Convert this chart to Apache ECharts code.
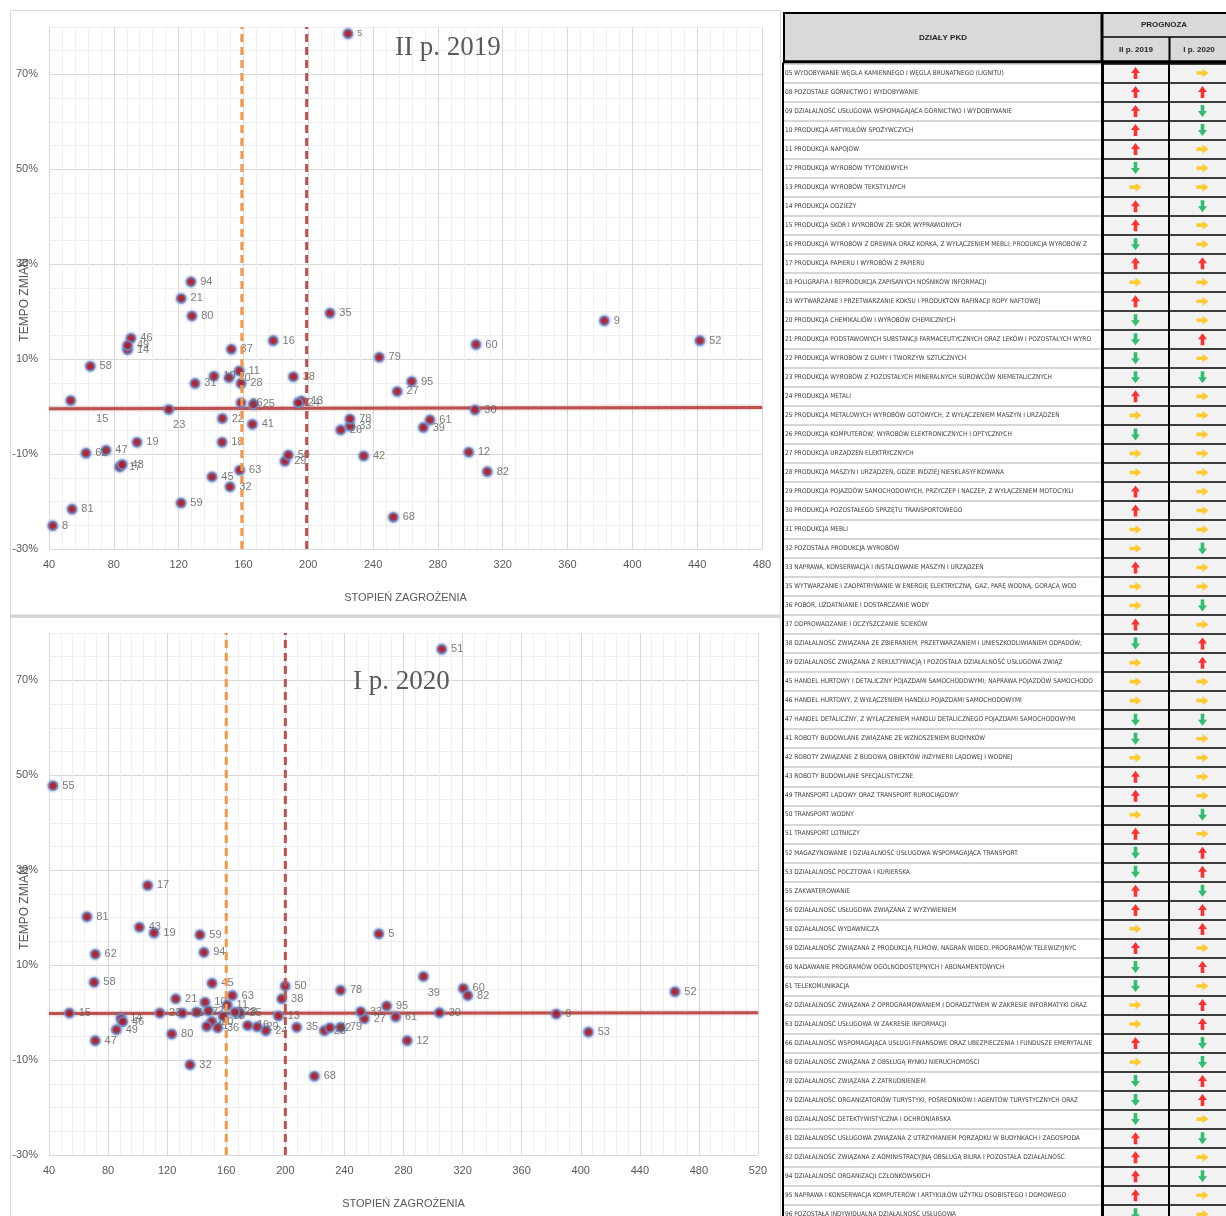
<!DOCTYPE html>
<html>
<head>
<meta charset="utf-8">
<script src="https://cdn.jsdelivr.net/npm/echarts@6/dist/echarts.min.js"></script>
<style>
  html, body { margin: 0; padding: 0; background: #fff; }
  #main { width: 1226px; height: 1216px; }
</style>
</head>
<body>
<div id="main"></div>
<script>
// II p. 2019 - stopien zagrozenia (x) i tempo zmian w % (y)
const codes2019 = ['5','8','9','10','11','12','13','14','15','16','17','18','19','20','21','22','23','24','25','26','27','28','29','30','31','32','33','35','36','37','38','39','41','42','43','45','46','47','49','50','52','58','59','60','61','62','63','68','78','79','80','81','82','94','95'];
const risk2019 = [224.5,42.3,382.7,141.8,157.4,299,195.9,88.5,53.4,178.4,83.6,146.8,94.3,151.1,121.6,147,113.9,193.8,166.1,220,254.9,158.5,185.6,302.9,130.1,151.7,225.7,213.4,158.5,152.5,190.8,271,165.5,234.2,85.2,140.6,90.6,75.2,88.5,187.7,441.7,65.5,121.5,303.5,275.1,62.8,157.7,252.5,225.7,243.8,128.2,54.2,310.5,127.6,263.8];
const change2019 = [78.6,-25.1,18.1,6.4,7.5,-9.6,1.2,12.0,1.3,13.9,-12.7,-7.5,-7.5,6.1,22.8,-2.5,-0.6,0.8,0.5,-4.9,3.2,4.9,-11.5,-0.7,4.9,-16.9,-4.1,19.7,0.8,12.1,6.3,-4.4,-3.7,-10.4,-12.2,-14.8,14.4,-9.2,12.9,-10.2,13.9,8.5,-20.3,13.1,-2.8,-9.8,-13.4,-23.3,-2.6,10.4,19.1,-21.6,-13.7,26.3,5.3];
const trend2019 = [[40, -0.45], [480, -0.17]];
const limits2019 = [159, 199];

// I p. 2020
const codes2020 = ['5','9','10','11','12','13','14','15','16','17','18','19','20','21','22','23','24','25','26','27','28','29','30','31','32','33','35','36','37','38','39','41','42','43','45','46','47','49','50','51','52','53','55','58','59','60','61','62','63','68','78','79','80','81','82','94','95'];
const risk2020 = [263.3,383.4,145.6,160.7,282.5,195.3,88.7,53.8,174.5,106.8,158,111.1,150.2,125.8,147.9,115,186.8,169.3,226.4,253.5,165.9,180.9,304.3,130.2,135.5,251,207.7,154.2,140,197.6,293.5,146.8,230.2,101.2,150.4,89.9,71.3,85.6,199.9,305.9,463.8,405.2,42.7,70.5,142.2,320.5,274.7,71.3,164.1,219.7,237.4,237.4,123.1,65.7,323.5,144.9,268.6];
const change2020 = [16.6,-0.3,2.2,1.6,-5.9,-0.7,-1.2,-0.1,-2.7,26.8,-0.8,16.8,-1.9,2.9,0.4,-0.1,-3.8,0.0,-3.8,-1.3,0.1,-3.0,0.0,-0.1,-11.0,0.2,-3.1,-3.2,0.1,2.9,7.6,-2.9,-3.2,18.0,6.2,-1.9,-5.9,-3.6,5.6,76.6,4.4,-4.1,47.8,6.4,16.4,5.1,-0.9,12.3,3.6,-13.4,4.7,-3.1,-4.5,20.2,3.6,12.7,1.4];
const trend2020 = [[40, -0.2], [520, 0.0]];
const limits2020 = [160, 200];

// tabela prognoz
const pkdNames = [
  '05 WYDOBYWANIE WĘGLA KAMIENNEGO I WĘGLA BRUNATNEGO (LIGNITU)',
  '08 POZOSTAŁE GÓRNICTWO I WYDOBYWANIE',
  '09 DZIAŁALNOŚĆ USŁUGOWA WSPOMAGAJĄCA GÓRNICTWO I WYDOBYWANIE',
  '10 PRODUKCJA ARTYKUŁÓW SPOŻYWCZYCH',
  '11 PRODUKCJA NAPOJÓW',
  '12 PRODUKCJA WYROBÓW TYTONIOWYCH',
  '13 PRODUKCJA WYROBÓW TEKSTYLNYCH',
  '14 PRODUKCJA ODZIEŻY',
  '15 PRODUKCJA SKÓR I WYROBÓW ZE SKÓR WYPRAWIONYCH',
  '16 PRODUKCJA WYROBÓW Z DREWNA ORAZ KORKA, Z WYŁĄCZENIEM MEBLI; PRODUKCJA WYROBÓW ZE SŁOMY I MATERIAŁÓW UŻYWANYCH DO WYPLATANIA',
  '17 PRODUKCJA PAPIERU I WYROBÓW Z PAPIERU',
  '18 POLIGRAFIA I REPRODUKCJA ZAPISANYCH NOŚNIKÓW INFORMACJI',
  '19 WYTWARZANIE I PRZETWARZANIE KOKSU I PRODUKTÓW RAFINACJI ROPY NAFTOWEJ',
  '20 PRODUKCJA CHEMIKALIÓW I WYROBÓW CHEMICZNYCH',
  '21 PRODUKCJA PODSTAWOWYCH SUBSTANCJI FARMACEUTYCZNYCH ORAZ LEKÓW I POZOSTAŁYCH WYROBÓW FARMACEUTYCZNYCH',
  '22 PRODUKCJA WYROBÓW Z GUMY I TWORZYW SZTUCZNYCH',
  '23 PRODUKCJA WYROBÓW Z POZOSTAŁYCH MINERALNYCH SUROWCÓW NIEMETALICZNYCH',
  '24 PRODUKCJA METALI',
  '25 PRODUKCJA METALOWYCH WYROBÓW GOTOWYCH, Z WYŁĄCZENIEM MASZYN I URZĄDZEŃ',
  '26 PRODUKCJA KOMPUTERÓW, WYROBÓW ELEKTRONICZNYCH I OPTYCZNYCH',
  '27 PRODUKCJA URZĄDZEŃ ELEKTRYCZNYCH',
  '28 PRODUKCJA MASZYN I URZĄDZEŃ, GDZIE INDZIEJ NIESKLASYFIKOWANA',
  '29 PRODUKCJA POJAZDÓW SAMOCHODOWYCH, PRZYCZEP I NACZEP, Z WYŁĄCZENIEM MOTOCYKLI',
  '30 PRODUKCJA POZOSTAŁEGO SPRZĘTU TRANSPORTOWEGO',
  '31 PRODUKCJA MEBLI',
  '32 POZOSTAŁA PRODUKCJA WYROBÓW',
  '33 NAPRAWA, KONSERWACJA I INSTALOWANIE MASZYN I URZĄDZEŃ',
  '35 WYTWARZANIE I ZAOPATRYWANIE W ENERGIĘ ELEKTRYCZNĄ, GAZ, PARĘ WODNĄ, GORĄCĄ WODĘ I POWIETRZE DO UKŁADÓW KLIMATYZACYJNYCH',
  '36 POBÓR, UZDATNIANIE I DOSTARCZANIE WODY',
  '37 ODPROWADZANIE I OCZYSZCZANIE ŚCIEKÓW',
  '38 DZIAŁALNOŚĆ ZWIĄZANA ZE ZBIERANIEM, PRZETWARZANIEM I UNIESZKODLIWIANIEM ODPADÓW; ODZYSK SUROWCÓW',
  '39 DZIAŁALNOŚĆ ZWIĄZANA Z REKULTYWACJĄ I POZOSTAŁA DZIAŁALNOŚĆ USŁUGOWA ZWIĄZANA Z GOSPODARKĄ ODPADAMI',
  '45 HANDEL HURTOWY I DETALICZNY POJAZDAMI SAMOCHODOWYMI; NAPRAWA POJAZDÓW SAMOCHODOWYCH',
  '46 HANDEL HURTOWY, Z WYŁĄCZENIEM HANDLU POJAZDAMI SAMOCHODOWYMI',
  '47 HANDEL DETALICZNY, Z WYŁĄCZENIEM HANDLU DETALICZNEGO POJAZDAMI SAMOCHODOWYMI',
  '41 ROBOTY BUDOWLANE ZWIĄZANE ZE WZNOSZENIEM BUDYNKÓW',
  '42 ROBOTY ZWIĄZANE Z BUDOWĄ OBIEKTÓW INŻYNIERII LĄDOWEJ I WODNEJ',
  '43 ROBOTY BUDOWLANE SPECJALISTYCZNE',
  '49 TRANSPORT LĄDOWY ORAZ TRANSPORT RUROCIĄGOWY',
  '50 TRANSPORT WODNY',
  '51 TRANSPORT LOTNICZY',
  '52 MAGAZYNOWANIE I DZIAŁALNOŚĆ USŁUGOWA WSPOMAGAJĄCA TRANSPORT',
  '53 DZIAŁALNOŚĆ POCZTOWA I KURIERSKA',
  '55 ZAKWATEROWANIE',
  '56 DZIAŁALNOŚĆ USŁUGOWA ZWIĄZANA Z WYŻYWIENIEM',
  '58 DZIAŁALNOŚĆ WYDAWNICZA',
  '59 DZIAŁALNOŚĆ ZWIĄZANA Z PRODUKCJĄ FILMÓW, NAGRAŃ WIDEO, PROGRAMÓW TELEWIZYJNYCH, NAGRAŃ DŹWIĘKOWYCH I MUZYCZNYCH',
  '60 NADAWANIE PROGRAMÓW OGÓLNODOSTĘPNYCH I ABONAMENTOWYCH',
  '61 TELEKOMUNIKACJA',
  '62 DZIAŁALNOŚĆ ZWIĄZANA Z OPROGRAMOWANIEM I DORADZTWEM W ZAKRESIE INFORMATYKI ORAZ DZIAŁALNOŚĆ POWIĄZANA',
  '63 DZIAŁALNOŚĆ USŁUGOWA W ZAKRESIE INFORMACJI',
  '66 DZIAŁALNOŚĆ WSPOMAGAJĄCA USŁUGI FINANSOWE ORAZ UBEZPIECZENIA I FUNDUSZE EMERYTALNE',
  '68 DZIAŁALNOŚĆ ZWIĄZANA Z OBSŁUGĄ RYNKU NIERUCHOMOŚCI',
  '78 DZIAŁALNOŚĆ ZWIĄZANA Z ZATRUDNIENIEM',
  '79 DZIAŁALNOŚĆ ORGANIZATORÓW TURYSTYKI, POŚREDNIKÓW I AGENTÓW TURYSTYCZNYCH ORAZ POZOSTAŁA DZIAŁALNOŚĆ USŁUGOWA',
  '80 DZIAŁALNOŚĆ DETEKTYWISTYCZNA I OCHRONIARSKA',
  '81 DZIAŁALNOŚĆ USŁUGOWA ZWIĄZANA Z UTRZYMANIEM PORZĄDKU W BUDYNKACH I ZAGOSPODAROWANIEM TERENÓW ZIELENI',
  '82 DZIAŁALNOŚĆ ZWIĄZANA Z ADMINISTRACYJNĄ OBSŁUGĄ BIURA I POZOSTAŁA DZIAŁALNOŚĆ WSPOMAGAJĄCA PROWADZENIE DZIAŁALNOŚCI',
  '94 DZIAŁALNOŚĆ ORGANIZACJI CZŁONKOWSKICH',
  '95 NAPRAWA I KONSERWACJA KOMPUTERÓW I ARTYKUŁÓW UŻYTKU OSOBISTEGO I DOMOWEGO',
  '96 POZOSTAŁA INDYWIDUALNA DZIAŁALNOŚĆ USŁUGOWA'
];
// u = wzrost, d = spadek, r = bez zmian
const forecast2019 = 'u u u u u d r u u d u r u d d d d u r d r r u u r r u r r u d r r r d d r u u r u d d u u r u d d r r u r d d d u u u u d'.split(' ');
const forecast2020 = 'r u d d r r r d r r u r r r u r d r r r r r r r r d r r d r u u r r d r r r r d r u u d u u r u r u u d d u u r d r d r r'.split(' ');
const forecastCols = ['II p. 2019', 'I p. 2020'];

const FONT = 'Liberation Sans';
const TABLE_FONT = "'DejaVu Sans Condensed', 'Liberation Sans', sans-serif";
const GRAY = '#595959';
const ARROW = 'path://M5,0L10,6L7,6L7,12L3,12L3,6L0,6Z';
const arrowStyle = {
  u: { color: '#ff0000', rotate: 0 },
  d: { color: '#00b050', rotate: 180 },
  r: { color: '#ffc000', rotate: -90 }
};

function points(codes, xs, ys, extra) {
  return codes.map((c, i) => {
    const d = { name: c, value: [xs[i], ys[i]] };
    if (extra[c]) d.label = extra[c];
    return d;
  });
}

function xAxisFor(gi, max) {
  return {
    type: 'value', gridIndex: gi, min: 40, max: max, interval: 8,
    name: 'STOPIEŃ ZAGROŻENIA', nameLocation: 'middle', nameGap: 43,
    nameTextStyle: { color: GRAY, fontSize: 11, fontFamily: FONT },
    axisLine: { show: false }, axisTick: { show: false },
    axisLabel: {
      color: GRAY, fontSize: 11, fontFamily: FONT, margin: 10,
      formatter: v => ((v - 40) % 40 === 0 ? String(v) : '')
    },
    splitLine: { lineStyle: { color: ['#d9d9d9', '#efefef', '#efefef', '#efefef', '#efefef'] } }
  };
}

function yAxisFor(gi) {
  return {
    type: 'value', gridIndex: gi, min: -30, max: 80, interval: 5,
    axisLine: { show: false }, axisTick: { show: false },
    axisLabel: {
      color: GRAY, fontSize: 11, fontFamily: FONT, margin: 11,
      formatter: v => ((v + 30) % 20 === 0 ? v + '%' : '')
    },
    splitLine: { lineStyle: { color: ['#d9d9d9', '#efefef', '#efefef', '#efefef'] } }
  };
}

function chartSeries(gi, data, trend, limits) {
  return [
    {
      type: 'line', xAxisIndex: gi, yAxisIndex: gi, data: trend, symbol: 'none', silent: true, z: 2,
      lineStyle: { color: '#c0504d', width: 3, shadowBlur: 3, shadowColor: 'rgba(120,0,0,0.35)' }
    },
    {
      type: 'scatter', xAxisIndex: gi, yAxisIndex: gi, data: data, symbolSize: 9, z: 3,
      itemStyle: { color: '#c00000', borderColor: '#6f8fcc', borderWidth: 1.6, shadowBlur: 3, shadowColor: 'rgba(91,127,192,0.9)' },
      label: { show: true, position: 'right', distance: 4, formatter: '{b}', color: GRAY, fontSize: 11, fontFamily: FONT }
    },
    {
      type: 'line', xAxisIndex: gi, yAxisIndex: gi, symbol: 'none', silent: true, z: 4,
      data: [[limits[0], -30], [limits[0], 80]],
      lineStyle: { color: '#f79646', width: 3, type: [8, 5] }
    },
    {
      type: 'line', xAxisIndex: gi, yAxisIndex: gi, symbol: 'none', silent: true, z: 4,
      data: [[limits[1], -30], [limits[1], 80]],
      lineStyle: { color: '#c0504d', width: 3, type: [8, 5] }
    }
  ];
}

const tableData = [];
pkdNames.forEach((n, i) => {
  [forecast2019[i], forecast2020[i]].forEach((k, j) => {
    const s = arrowStyle[k];
    tableData.push({ value: [j, i], symbolRotate: s.rotate, itemStyle: { color: s.color } });
  });
});

const ROW_TOP = 63.5;
const ROW_H = 19.02;

function axisTitle(y) {
  return {
    type: 'text', x: 25, y: y, rotation: Math.PI / 2, silent: true,
    style: { text: 'TEMPO ZMIAN', fontSize: 12, fontFamily: FONT, fill: GRAY, align: 'center', verticalAlign: 'middle' }
  };
}

const myChart = echarts.init(document.getElementById('main'));
const option = {
  animation: false,
  backgroundColor: '#fff',
  title: [
    { text: 'II p. 2019', left: 390, top: 29, textStyle: { fontFamily: 'Liberation Serif', fontSize: 27, fontWeight: 'normal', color: GRAY } },
    { text: 'I p. 2020', left: 348, top: 663, textStyle: { fontFamily: 'Liberation Serif', fontSize: 27, fontWeight: 'normal', color: GRAY } }
  ],
  grid: [
    { left: 49, top: 27, width: 713, height: 522, containLabel: false, outerBoundsMode: 'none' },
    { left: 49, top: 633, width: 709, height: 522, containLabel: false, outerBoundsMode: 'none' },
    { left: 1102, top: ROW_TOP, width: 134, height: ROW_H * pkdNames.length, show: true, backgroundColor: '#f2f2f2', borderWidth: 0, containLabel: false, outerBoundsMode: 'none' },
    { left: 783, top: ROW_TOP, width: 319, height: ROW_H * pkdNames.length, containLabel: false, outerBoundsMode: 'none' }
  ],
  xAxis: [
    xAxisFor(0, 480),
    xAxisFor(1, 520),
    {
      type: 'category', gridIndex: 2, data: forecastCols,
      axisLabel: { show: false }, axisTick: { show: false }, axisLine: { show: false },
      splitLine: { show: true, interval: 0, lineStyle: { color: '#000', width: 2 } }
    },
    { type: 'value', gridIndex: 3, show: false, splitLine: { show: false } }
  ],
  yAxis: [
    yAxisFor(0),
    yAxisFor(1),
    {
      type: 'category', gridIndex: 2, data: pkdNames, inverse: true,
      axisTick: { show: false },
      axisLine: { show: true, lineStyle: { color: '#000', width: 3 } },
      splitLine: { show: true, interval: 0, lineStyle: { color: '#000', width: 1.5 } },
      axisLabel: {
        interval: 0, align: 'left', margin: 317, width: 314, overflow: 'truncate', ellipsis: '',
        fontSize: 6.5, fontFamily: TABLE_FONT, color: '#404040'
      }
    },
    {
      type: 'category', gridIndex: 3, data: pkdNames, inverse: true,
      axisTick: { show: false }, axisLabel: { show: false },
      axisLine: { show: true, lineStyle: { color: '#000', width: 2 } },
      splitLine: { show: true, interval: 0, lineStyle: { color: '#c8c8c8', width: 1.5 } }
    }
  ],
  series: [
    ...chartSeries(0, points(codes2019, risk2019, change2019, {
      '5': { fontSize: 9 },
      '15': { offset: [16, 19] },
      '23': { offset: [-5, 15] }
    }), trend2019, limits2019),
    ...chartSeries(1, points(codes2020, risk2020, change2020, {
      '39': { offset: [-5, 16] }
    }), trend2020, limits2020),
    {
      type: 'scatter', xAxisIndex: 2, yAxisIndex: 2, data: tableData,
      symbol: ARROW, symbolSize: [9, 12], silent: true, z: 5
    }
  ],
  graphic: [
    { type: 'rect', shape: { x: 10.5, y: 10.5, width: 770, height: 605 }, style: { fill: 'none', stroke: '#d9d9d9', lineWidth: 1 }, silent: true },
    { type: 'line', shape: { x1: 10, y1: 616, x2: 781, y2: 616 }, style: { stroke: '#d4d4d4', lineWidth: 3 }, silent: true },
    { type: 'rect', shape: { x: 10.5, y: 617.5, width: 770, height: 610 }, style: { fill: 'none', stroke: '#d9d9d9', lineWidth: 1 }, silent: true },
    axisTitle(300),
    axisTitle(908),
    { type: 'rect', shape: { x: 783, y: 13, width: 443, height: 50 }, style: { fill: '#d9d9d9' }, silent: true },
    { type: 'line', shape: { x1: 783, y1: 13, x2: 1226, y2: 13 }, style: { stroke: '#000', lineWidth: 2 }, silent: true },
    { type: 'line', shape: { x1: 784, y1: 13, x2: 784, y2: 63 }, style: { stroke: '#000', lineWidth: 2 }, silent: true },
    { type: 'line', shape: { x1: 1102, y1: 13, x2: 1102, y2: 63 }, style: { stroke: '#000', lineWidth: 3 }, silent: true },
    { type: 'line', shape: { x1: 1102, y1: 37, x2: 1226, y2: 37 }, style: { stroke: '#000', lineWidth: 1.5 }, silent: true },
    { type: 'line', shape: { x1: 1169.5, y1: 37, x2: 1169.5, y2: 63 }, style: { stroke: '#000', lineWidth: 2 }, silent: true },
    { type: 'line', shape: { x1: 783, y1: 62, x2: 1226, y2: 62 }, style: { stroke: '#000', lineWidth: 3.5 }, silent: true },
    { type: 'text', x: 943, y: 38, style: { text: 'DZIAŁY PKD', fontSize: 8, fontWeight: 'bold', fontFamily: FONT, fill: '#262626', align: 'center', verticalAlign: 'middle' }, silent: true },
    { type: 'text', x: 1164, y: 25, style: { text: 'PROGNOZA', fontSize: 8, fontWeight: 'bold', fontFamily: FONT, fill: '#262626', align: 'center', verticalAlign: 'middle' }, silent: true },
    { type: 'text', x: 1136, y: 50, style: { text: forecastCols[0], fontSize: 8, fontWeight: 'bold', fontFamily: FONT, fill: '#262626', align: 'center', verticalAlign: 'middle' }, silent: true },
    { type: 'text', x: 1199, y: 50, style: { text: forecastCols[1], fontSize: 8, fontWeight: 'bold', fontFamily: FONT, fill: '#262626', align: 'center', verticalAlign: 'middle' }, silent: true }
  ]
};
myChart.setOption(option);
</script>
</body>
</html>
